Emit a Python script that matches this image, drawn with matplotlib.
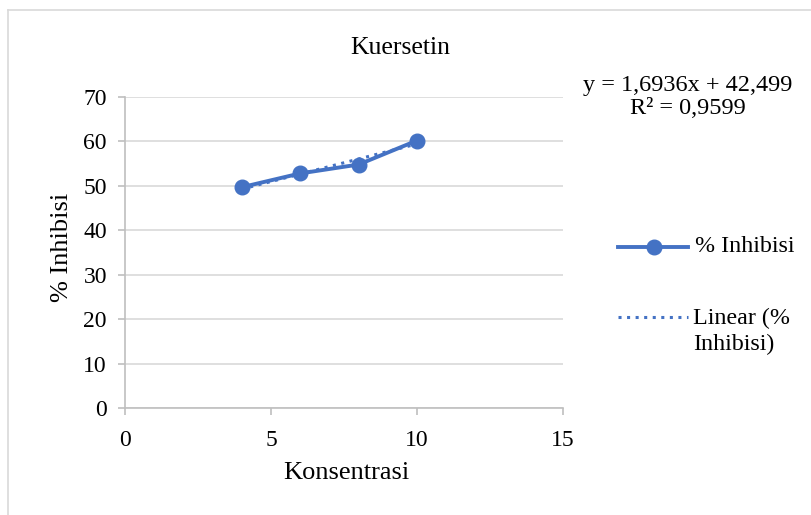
import numpy as np
import matplotlib.pyplot as plt
from matplotlib.lines import Line2D

plt.rcParams['font.family'] = ['Liberation Serif', 'DejaVu Serif']

# data
konsentrasi = [4, 6, 8, 10]
inhibisi = [49.7, 52.8, 54.8, 60.2]
slope = 1.6936
intercept = 42.499
r2 = 0.9599

blue = '#4472C4'
grid_c = '#D9D9D9'
axis_c = '#BFBFBF'
W, H = 812, 515

fig = plt.figure(figsize=(8.12, 5.15), dpi=100)
ax = fig.add_axes([125 / W, 1 - 408 / H, 438 / W, 311 / H])

ax.plot(konsentrasi, inhibisi, color=blue, lw=2.8, marker='o', ms=10.5,
        zorder=3)
xt = np.array([konsentrasi[0], konsentrasi[-1]])
ax.plot(xt, slope * xt + intercept, color=blue, lw=2.2, ls=(0, (1, 1.8)),
        zorder=2)

ax.set_xlim(0, 15)
ax.set_ylim(0, 70)
ax.set_xticks([0, 5, 10, 15])
ax.set_yticks(range(0, 71, 10))
ax.grid(axis='y', color=grid_c, lw=1.2)
ax.set_axisbelow(True)
for s in ['top', 'right']:
    ax.spines[s].set_visible(False)
for s in ['left', 'bottom']:
    ax.spines[s].set_color(axis_c)
    ax.spines[s].set_linewidth(1.2)
ax.tick_params(colors=axis_c, length=5, width=1.2, labelcolor='black',
               labelsize=17)
ax.tick_params(axis='x', pad=11)
ax.tick_params(axis='y', pad=8)

fig.text(346 / W, 1 - 473 / H, 'Konsentrasi', ha='center', va='center',
         fontsize=19)
fig.text(62 / W, 1 - 247 / H, '% Inhibisi', ha='center', va='center',
         fontsize=19, rotation=90)
fig.text(400 / W, 1 - 48 / H, 'Kuersetin', ha='center', va='center',
         fontsize=18.5)

eq = 'y = {}x + {}\nR² = {}'.format(str(slope).replace('.', ','),
                                      str(intercept).replace('.', ','),
                                      str(r2).replace('.', ','))
fig.text(688 / W, 1 - 97 / H, eq, ha='center', va='center', fontsize=17.5,
         linespacing=1.15)

# legend
y1 = 1 - 247 / H
y2 = 1 - 317 / H
fig.add_artist(Line2D([618 / W, 688 / W], [y1, y1], color=blue, lw=2.8,
                      transform=fig.transFigure))
fig.add_artist(Line2D([654 / W], [y1], color=blue, marker='o', ms=10.5,
                      transform=fig.transFigure))
fig.text(695 / W, y1, '% Inhibisi', ha='left', va='center', fontsize=17.3)
fig.add_artist(Line2D([618 / W, 688 / W], [y2, y2], color=blue, lw=2.2,
                      ls=(0, (1, 1.8)), transform=fig.transFigure))
fig.text(693 / W, 1 - 331 / H, 'Linear (%\nInhibisi)', ha='left', va='center',
         fontsize=17.3, linespacing=1.3)

# chart border (top and left)
fig.add_artist(Line2D([8 / W, 1], [1 - 10 / H] * 2, color='#D9D9D9',
                      lw=1.2, transform=fig.transFigure))
fig.add_artist(Line2D([8 / W] * 2, [0, 1 - 10 / H], color='#D9D9D9',
                      lw=1.2, transform=fig.transFigure))

fig.savefig('out.png', dpi=100, facecolor='white')
